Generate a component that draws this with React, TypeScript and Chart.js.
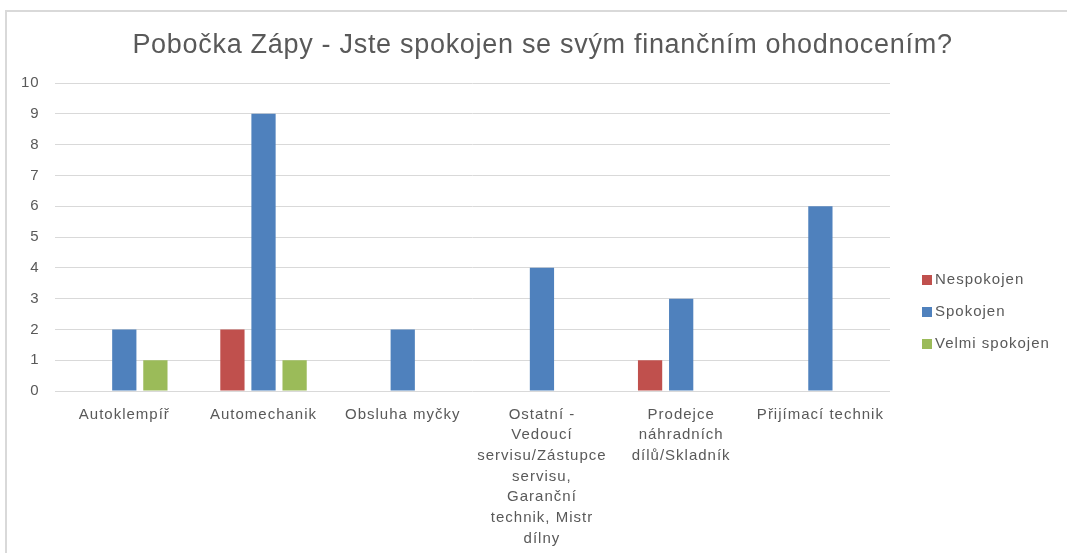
import React, { useEffect, useRef } from "react";
import { Chart, registerables } from "chart.js";

Chart.register(...registerables);

const categories: (string | string[])[] = [
  "Autoklempíř",
  "Automechanik",
  "Obsluha myčky",
  ["Ostatní -", "Vedoucí", "servisu/Zástupce", "servisu,", "Garanční", "technik, Mistr", "dílny"],
  ["Prodejce", "náhradních", "dílů/Skladník"],
  "Přijímací technik",
];
const seriesNames = ["Nespokojen", "Spokojen", "Velmi spokojen"];
const nespokojen: (number | null)[] = [null, 2, null, null, 1, null];
const spokojen: (number | null)[] = [2, 9, 2, 4, 3, 6];
const velmiSpokojen: (number | null)[] = [1, 1, null, null, null, null];
const yTicks = [0, 1, 2, 3, 4, 5, 6, 7, 8, 9, 10];
const titleText = "Pobočka Zápy - Jste spokojen se svým finančním ohodnocením?";

const colors = ["#C0504D", "#4F81BD", "#9BBB59"];
const textColor = "#595959";
const fontFamily = "'Liberation Sans', Arial, sans-serif";

const spacingPlugin = {
  id: "spacing",
  beforeUpdate(chart: any) {
    try { chart.ctx.letterSpacing = "1px"; } catch (e) {}
  },
  beforeDraw(chart: any) {
    const ctx = chart.ctx;
    try { ctx.letterSpacing = "1px"; } catch (e) {}
    ctx.save();
    ctx.strokeStyle = "#d9d9d9";
    ctx.lineWidth = 2;
    ctx.strokeRect(6, 11, 1076, 600);
    ctx.restore();
  },
};

const titlePlugin = {
  id: "customTitle",
  afterDraw(chart: any) {
    const ctx = chart.ctx;
    ctx.save();
    try { ctx.letterSpacing = "0.7px"; } catch (e) {}
    ctx.font = `27px ${fontFamily}`;
    ctx.textBaseline = "middle";
    ctx.textAlign = "center";
    ctx.fillStyle = textColor;
    ctx.fillText(titleText, 542.5, 46);
    ctx.restore();
  },
};

const legendPlugin = {
  id: "customLegend",
  afterDraw(chart: any) {
    const ctx = chart.ctx;
    ctx.save();
    ctx.font = `15px ${fontFamily}`;
    ctx.textBaseline = "middle";
    ctx.textAlign = "left";
    chart.data.datasets.forEach((ds: any, i: number) => {
      const y = 280 + i * 32;
      ctx.fillStyle = ds.backgroundColor;
      ctx.fillRect(922, y - 5, 10, 10);
      ctx.fillStyle = textColor;
      ctx.fillText(ds.label, 935, y);
    });
    ctx.restore();
  },
};

export default function App() {
  const ref = useRef<HTMLCanvasElement | null>(null);
  useEffect(() => {
    document.body.style.margin = "0";
    document.body.style.overflow = "hidden";
    const canvas = ref.current!;
    const chart = new Chart(canvas, {
      type: "bar",
      data: {
        labels: categories,
        datasets: [nespokojen, spokojen, velmiSpokojen].map((d, i) => ({
          label: seriesNames[i],
          data: d,
          backgroundColor: colors[i],
          borderWidth: 0,
          barPercentage: 0.78,
          categoryPercentage: 0.67,
        })),
      },
      options: {
        animation: false,
        responsive: false,
        layout: { padding: { left: 6, right: 195, top: 83, bottom: 3 } },
        plugins: {
          legend: { display: false },
          tooltip: { enabled: false },
          title: { display: false },
        },
        scales: {
          x: {
            grid: { display: false, drawTicks: false },
            border: { display: false },
            ticks: {
              color: textColor,
              font: { family: fontFamily, size: 15, lineHeight: 1.38 },
              padding: 13,
              maxRotation: 0,
              autoSkip: false,
            },
          },
          y: {
            min: 0,
            max: 10,
            afterBuildTicks: (axis: any) => {
              axis.ticks = yTicks.map((v) => ({ value: v }));
            },
            grid: { color: "#d9d9d9", lineWidth: 1, drawTicks: false },
            border: { display: false },
            ticks: {
              color: textColor,
              font: { family: fontFamily, size: 15 },
              padding: 15,
            },
          },
        },
      },
      plugins: [spacingPlugin, titlePlugin, legendPlugin],
    });
    return () => chart.destroy();
  }, []);
  return (
    <div style={{ position: "fixed", left: 0, top: 0, width: 1067, height: 553, overflow: "hidden", background: "#fff" }}>
      <canvas ref={ref} width={1085} height={565} style={{ width: 1085, height: 565, display: "block" }} />
    </div>
  );
}
